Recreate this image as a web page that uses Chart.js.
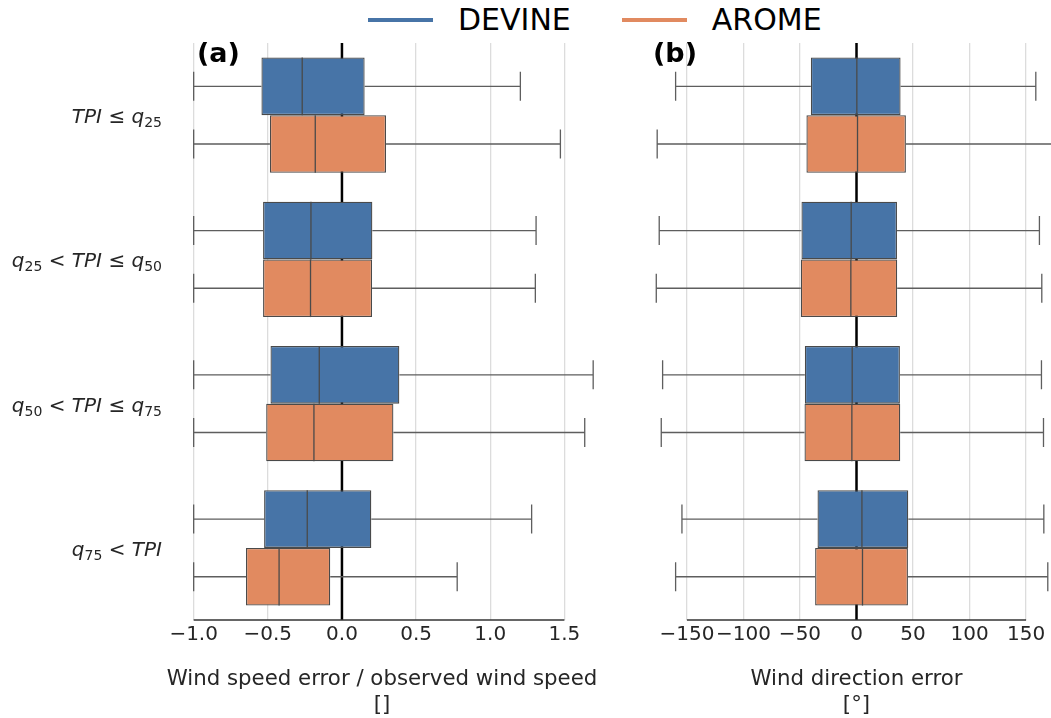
<!DOCTYPE html>
<html>
<head>
<meta charset="utf-8">
<script src="https://cdn.jsdelivr.net/npm/chart.js@4.4.1/dist/chart.umd.min.js"></script>
<style>
  html, body { margin: 0; padding: 0; background: #fff; overflow: hidden; }
  body { width: 1051px; height: 718px; position: relative; font-family: "DejaVu Sans", sans-serif; }
  #wrapA { position: absolute; left: 0; top: 0; width: 620px; height: 718px; }
  #wrapB { position: absolute; left: 620px; top: 0; width: 450px; height: 718px; }
  #legend { position: absolute; top: 2px; left: 368px; display: flex; align-items: center; font-size: 30px; color: #000; }
  #legend .item { display: flex; align-items: center; }
  #legend .swatch { width: 65px; height: 4px; margin-right: 25px; }
</style>
</head>
<body>
<div id="legend">
  <div class="item"><span class="swatch" style="background:#4774a7"></span><span>DEVINE</span></div>
  <div class="item" style="margin-left:51px"><span class="swatch" style="background:#e18a60"></span><span>AROME</span></div>
</div>
<div id="wrapA"><canvas id="chartA" width="620" height="718"></canvas></div>
<div id="wrapB"><canvas id="chartB" width="450" height="718"></canvas></div>
<script>
// TPI classes (top to bottom)
const categories = ["TPI \u2264 q\u2082\u2085", "q\u2082\u2085 < TPI \u2264 q\u2085\u2080", "q\u2085\u2080 < TPI \u2264 q\u2087\u2085", "q\u2087\u2085 < TPI"];

// box summaries per class: [whisker low, q1, median, q3, whisker high]
const speedDevine = [
  [-1.0, -0.543, -0.268, 0.153, 1.203],
  [-1.0, -0.532, -0.209, 0.205, 1.309],
  [-1.0, -0.482, -0.153, 0.387, 1.694],
  [-1.0, -0.525, -0.234, 0.198, 1.279],
];
const speedArome = [
  [-1.0, -0.486, -0.180, 0.297, 1.473],
  [-1.0, -0.532, -0.212, 0.203, 1.304],
  [-1.0, -0.511, -0.189, 0.347, 1.637],
  [-1.0, -0.647, -0.424, -0.079, 0.777],
];
const dirDevine = [
  [-160.0, -40.4, 0.3, 39.0, 158.6],
  [-174.5, -48.7, -4.7, 35.8, 161.8],
  [-171.5, -45.7, -3.8, 38.4, 163.6],
  [-154.4, -34.5, 4.8, 45.8, 165.7],
];
const dirArome = [
  [-176.3, -44.3, 0.9, 43.7, 180.0],
  [-177.1, -49.3, -5.0, 36.0, 163.9],
  [-172.7, -46.0, -4.1, 38.7, 165.4],
  [-160.0, -36.6, 5.3, 45.5, 169.2],
];

const speedTicks = [-1.0, -0.5, 0.0, 0.5, 1.0, 1.5];
const speedTickLabels = ["\u22121.0", "\u22120.5", "0.0", "0.5", "1.0", "1.5"];
const dirTicks = [-150, -100, -50, 0, 50, 100, 150];
const dirTickLabels = ["\u2212150", "\u2212100", "\u221250", "0", "50", "100", "150"];

const BLUE = "#4774a7";
const ORANGE = "#e18a60";
const EDGE = "#4a4a4a";
const WHISKER = "#5e5e5e";
const TEXT = "#262626";

Chart.defaults.font.family = "DejaVu Sans";
Chart.defaults.color = TEXT;

// split a label into runs: italic letters, upright operators, small subscript digits
function labelRuns(label) {
  const runs = [];
  for (const ch of label) {
    const code = ch.codePointAt(0);
    let kind, text = ch;
    if (code >= 0x2080 && code <= 0x2089) { kind = "sub"; text = String(code - 0x2080); }
    else if (/[A-Za-z]/.test(ch)) kind = "ital";
    else kind = "op";
    const last = runs[runs.length - 1];
    if (last && last.kind === kind) last.text += text;
    else runs.push({ kind, text });
  }
  return runs;
}
const runFont = { ital: "italic 20px 'DejaVu Sans'", op: "20px 'DejaVu Sans'", sub: "14px 'DejaVu Sans'" };

// whiskers, medians, zero line, trimmed x spine, math y labels and panel letter
const boxPlugin = {
  id: "boxPlugin",
  beforeDatasetsDraw(chart, args, opts) {
    const { ctx, chartArea } = chart;
    const x = chart.scales.x;
    ctx.save();
    ctx.beginPath();
    ctx.rect(chartArea.left, chartArea.top, chartArea.right - chartArea.left, chartArea.bottom - chartArea.top);
    ctx.clip();
    // zero line
    const x0 = x.getPixelForValue(0);
    ctx.strokeStyle = "#000";
    ctx.lineWidth = 2.5;
    ctx.beginPath();
    ctx.moveTo(x0, chartArea.top);
    ctx.lineTo(x0, chartArea.bottom);
    ctx.stroke();
    // whiskers
    ctx.strokeStyle = WHISKER;
    ctx.lineWidth = 1.3;
    chart.data.datasets.forEach((ds, di) => {
      const meta = chart.getDatasetMeta(di);
      meta.data.forEach((bar, i) => {
        const s = ds.stats[i];
        const { y, height } = bar.getProps(["y", "height"], true);
        const cap = height / 4;
        const lo = x.getPixelForValue(s[0]);
        const q1 = x.getPixelForValue(s[1]);
        const q3 = x.getPixelForValue(s[3]);
        const hi = x.getPixelForValue(s[4]);
        ctx.beginPath();
        ctx.moveTo(lo, y); ctx.lineTo(q1, y);
        ctx.moveTo(q3, y); ctx.lineTo(hi, y);
        ctx.moveTo(lo, y - cap); ctx.lineTo(lo, y + cap);
        ctx.moveTo(hi, y - cap); ctx.lineTo(hi, y + cap);
        ctx.stroke();
      });
    });
    ctx.restore();
  },
  afterDatasetsDraw(chart, args, opts) {
    const { ctx, chartArea } = chart;
    const x = chart.scales.x;
    const yScale = chart.scales.y;
    ctx.save();
    ctx.strokeStyle = EDGE;
    ctx.lineWidth = 1.3;
    chart.data.datasets.forEach((ds, di) => {
      const meta = chart.getDatasetMeta(di);
      meta.data.forEach((bar, i) => {
        const { y, height } = bar.getProps(["y", "height"], true);
        const m = x.getPixelForValue(ds.stats[i][2]);
        ctx.beginPath();
        ctx.moveTo(m, y - height / 2);
        ctx.lineTo(m, y + height / 2);
        ctx.stroke();
      });
    });
    // trimmed bottom spine
    const t = opts.ticks;
    ctx.strokeStyle = "#333";
    ctx.lineWidth = 1.3;
    ctx.beginPath();
    ctx.moveTo(x.getPixelForValue(t[0]), chartArea.bottom);
    ctx.lineTo(x.getPixelForValue(t[t.length - 1]), chartArea.bottom);
    ctx.stroke();
    // category labels with subscripts
    if (opts.showY) {
      ctx.fillStyle = TEXT;
      ctx.textBaseline = "alphabetic";
      ctx.textAlign = "left";
      chart.data.labels.forEach((label, i) => {
        const runs = labelRuns(label);
        let w = 0;
        runs.forEach((r) => { ctx.font = runFont[r.kind]; r.w = ctx.measureText(r.text).width; w += r.w; });
        let cx = opts.labelRight - w;
        const base = yScale.getPixelForValue(i) + 8;
        runs.forEach((r) => {
          ctx.font = runFont[r.kind];
          ctx.fillText(r.text, cx, r.kind === "sub" ? base + 4 : base);
          cx += r.w;
        });
      });
    }
    // panel letter
    ctx.fillStyle = "#000";
    ctx.font = "bold 27px 'DejaVu Sans'";
    ctx.textBaseline = "top";
    ctx.textAlign = "left";
    ctx.fillText(opts.letter, opts.letterX, chartArea.top - 2);
    ctx.restore();
  },
};

function makeChart(id, devine, arome, ticks, tickLabels, min, max, title, showY, padding, letterX) {
  const toBox = (rows) => rows.map((r) => [r[1], r[3]]);
  return new Chart(document.getElementById(id), {
    type: "bar",
    data: {
      labels: categories,
      datasets: [
        { label: "DEVINE", data: toBox(devine), stats: devine, backgroundColor: BLUE, borderColor: EDGE, borderWidth: 1.3, borderSkipped: false },
        { label: "AROME", data: toBox(arome), stats: arome, backgroundColor: ORANGE, borderColor: EDGE, borderWidth: 1.3, borderSkipped: false },
      ],
    },
    options: {
      indexAxis: "y",
      responsive: false,
      animation: false,
      layout: { padding: padding },
      categoryPercentage: 0.8,
      barPercentage: 1.0,
      plugins: {
        legend: { display: false },
        tooltip: { enabled: false },
        boxPlugin: { ticks: ticks, letter: showY ? "(a)" : "(b)", letterX: letterX, showY: showY, labelRight: 162 },
      },
      scales: {
        x: {
          type: "linear",
          min: min,
          max: max,
          afterBuildTicks: (scale) => { scale.ticks = ticks.map((v) => ({ value: v })); },
          afterFit: (scale) => { scale.height = 98; },
          ticks: {
            padding: 3,
            maxRotation: 0,
            minRotation: 0,
            autoSkip: false,
            font: { size: 20 },
            color: TEXT,
            callback: (value, index) => tickLabels[index],
          },
          grid: { color: "#dcdcdc", lineWidth: 1.3, drawTicks: false },
          border: { display: false },
          title: { display: true, text: title, font: { size: 21.3 }, color: TEXT, padding: { top: 0, bottom: 0 } },
        },
        y: {
          type: "category",
          display: showY,
          afterFit: (scale) => { scale.width = showY ? 164 : 0; },
          ticks: { display: false },
          grid: { display: false, drawTicks: false },
          border: { display: false },
        },
      },
    },
    plugins: [boxPlugin],
  });
}

makeChart("chartA", speedDevine, speedArome, speedTicks, speedTickLabels, -1.2, 1.74,
  ["Wind speed error / observed wind speed", "[]"], true, { top: 43, right: 20, left: 0, bottom: 0 }, 197);
makeChart("chartB", dirDevine, dirArome, dirTicks, dirTickLabels, -180, 180,
  ["Wind direction error", "[\u00b0]"], false, { top: 43, right: 10, left: 33, bottom: 0 }, 33);
</script>
</body>
</html>
